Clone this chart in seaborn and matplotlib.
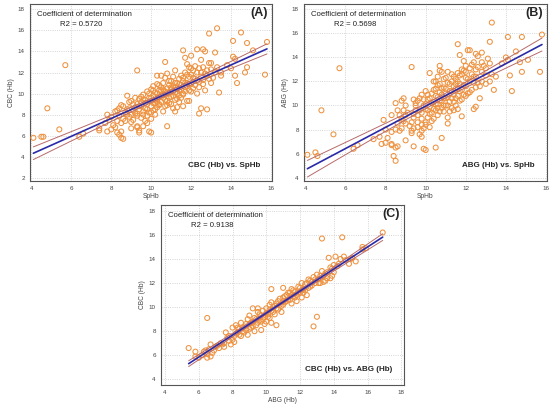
import numpy as np
import matplotlib
matplotlib.use("Agg")
import matplotlib.pyplot as plt
from matplotlib.ticker import MultipleLocator
import seaborn as sns

# panel A: CBC (Hb) vs SpHb
sphb_a = [4.1, 4.5, 4.6, 4.8, 5.4, 5.7, 6.4, 6.6, 7.4, 7.4, 7.7, 7.8, 7.8,
          7.9, 8.0, 8.0, 8.1, 8.2, 8.2, 8.3, 8.3, 8.3, 8.4, 8.4, 8.4, 8.5, 8.5, 8.5, 8.5, 8.6, 8.6, 8.7, 8.8, 8.8, 8.9, 8.9,
          9.0, 9.0, 9.0, 9.1, 9.1, 9.2, 9.2, 9.3, 9.3, 9.3, 9.3, 9.3, 9.4, 9.4, 9.4, 9.4, 9.5, 9.5, 9.5, 9.6, 9.6, 9.6,
          9.7, 9.7, 9.7, 9.8, 9.8, 9.8, 9.9, 9.9, 9.9, 10.0, 10.0, 10.0, 10.0, 10.0, 10.1, 10.1, 10.1, 10.2, 10.2, 10.2,
          10.3, 10.3, 10.3, 10.3, 10.4, 10.4, 10.4, 10.5, 10.5, 10.5,
          10.6, 10.6, 10.6, 10.7, 10.7, 10.7, 10.7, 10.8, 10.8, 10.8, 10.8, 10.9, 10.9, 10.9, 11.0, 11.0, 11.0,
          11.1, 11.1, 11.1, 11.2, 11.2, 11.2, 11.2, 11.3, 11.3, 11.3, 11.4, 11.4, 11.4,
          11.5, 11.5, 11.6, 11.6, 11.6, 11.6, 11.7, 11.7, 11.7, 11.8, 11.8, 11.8, 11.9, 11.9, 11.9, 11.9,
          12.0, 12.0, 12.0, 12.1, 12.1, 12.2, 12.2, 12.3, 12.3, 12.3, 12.4, 12.4, 12.4,
          12.5, 12.5, 12.5, 12.6, 12.6, 12.6, 12.7, 12.7, 12.7, 12.8, 12.8, 12.9, 12.9, 12.9, 13.0, 13.0,
          13.2, 13.2, 13.3, 13.3, 13.4, 13.5, 13.5,
          13.8, 14.0, 14.1, 14.1, 14.2, 14.2, 14.3, 14.5, 14.7, 14.8, 14.8, 15.1, 15.7, 15.8]
cbc_a = [5.8, 5.9, 5.9, 8.6, 6.6, 12.7, 5.9, 6.2, 6.5, 6.7, 7.2, 6.4, 8.0,
         7.5, 6.6, 7.8, 7.0, 6.8, 8.3, 6.3, 7.4, 8.4, 6.1, 7.9, 8.6, 5.8, 6.4, 7.2, 8.9, 5.7, 7.6, 8.2, 9.8, 8.5, 9.2, 7.8,
         6.7, 8.0, 9.3, 8.4, 7.5, 9.6, 8.7, 6.8, 6.9, 12.2, 8.1, 9.0, 6.3, 6.5, 9.5, 8.5, 7.7, 9.2, 8.8, 6.9, 9.9, 8.3,
         7.4, 9.4, 8.6, 7.9, 9.0, 10.2, 6.4, 8.2, 9.6, 6.3, 7.6, 8.8, 9.3, 10.4, 8.4, 9.8, 10.7, 9.1, 8.0, 10.1,
         11.7, 9.5, 10.9, 8.7, 9.7, 10.3, 8.9, 11.7, 9.2, 10.6,
         8.3, 9.9, 11.0, 13.0, 9.4, 10.2, 11.5, 6.9, 8.9, 10.5, 11.9, 9.6, 10.8, 10.0, 9.0, 10.4, 11.2,
         9.8, 10.7, 8.6, 8.3, 10.1, 11.0, 12.2, 8.7, 9.5, 10.5, 11.4, 10.3, 9.2,
         10.8, 11.7, 8.8, 14.1, 10.0, 11.2, 13.4, 10.6, 12.0, 9.3, 12.8, 11.0, 9.3, 10.3, 11.6, 12.5,
         13.6, 10.9, 11.8, 10.5, 12.2, 11.4, 10.8, 14.2, 10.0, 12.0, 8.1, 11.1, 12.4,
         8.6, 13.2, 11.6, 14.2, 12.5, 10.9, 10.3, 14.0, 11.9, 8.5, 12.2, 15.7, 12.9, 11.4, 12.3, 11.0,
         13.9, 12.0, 16.2, 12.5, 10.1, 12.0, 11.7,
         12.7, 12.4, 15.0, 13.5, 13.3, 11.7, 11.0, 15.8, 12.0, 14.8, 12.5, 14.1, 11.8, 14.9]
# more points from the dense middle of panel A
sphb_a_mid = [9.1, 9.2, 9.4, 9.5, 9.6, 9.7, 9.8, 9.9, 10.0, 10.0, 10.1, 10.1, 10.2, 10.2, 10.3, 10.3, 10.4, 10.4,
              10.5, 10.5, 10.6, 10.6, 10.7, 10.7, 10.8, 10.8, 10.9, 10.9, 11.0, 11.0, 11.1, 11.1, 11.2, 11.2,
              11.3, 11.3, 11.4, 11.4, 11.5, 11.5, 11.6, 11.6, 11.7, 11.7, 11.8, 11.8, 11.9, 12.0, 12.0, 12.1,
              12.2, 12.3, 12.4, 12.5, 12.6, 12.8, 13.0, 13.1, 8.7, 8.8, 8.9, 9.0, 8.6, 9.3, 9.6, 9.8]
cbc_a_mid = [9.0, 8.1, 8.8, 9.7, 8.0, 9.1, 8.5, 10.0, 8.2, 9.6, 9.1, 10.3, 9.4, 8.5, 10.0, 9.2, 10.8, 9.0,
             9.8, 10.3, 9.6, 10.4, 8.8, 9.9, 10.1, 9.3, 11.2, 9.1, 9.7, 10.6, 10.2, 11.6, 9.4, 10.6,
             10.0, 11.0, 9.8, 10.9, 9.6, 10.4, 11.5, 9.9, 10.2, 11.0, 10.7, 11.8, 10.9, 10.2, 12.4, 11.5,
             12.6, 11.2, 10.6, 12.0, 11.3, 11.7, 12.9, 11.5, 7.4, 8.0, 8.6, 7.3, 8.8, 7.9, 9.4, 7.2]

# panel B: ABG (Hb) vs SpHb
sphb_b = [4.1, 4.5, 4.6, 4.8, 5.4, 5.7, 6.4, 6.6, 7.4, 7.7, 7.8, 7.9, 8.0,
          8.1, 8.0, 8.3, 8.3, 8.3, 8.3, 8.4, 8.5, 8.5, 8.5, 8.5, 8.6, 8.6, 8.7, 8.8, 8.8, 8.9, 8.9, 9.0, 9.0, 9.0,
          9.3, 9.3, 9.3, 9.4, 9.4, 9.4, 9.4, 9.5, 9.5, 9.6, 9.6, 9.7, 9.7, 9.8, 9.8, 9.8, 9.8, 9.9, 9.9, 9.9,
          10.0, 10.0, 10.0, 10.0, 10.1, 10.1, 10.2, 10.2, 10.2, 10.3, 10.3, 10.4, 10.4, 10.4, 10.5, 10.5, 10.5, 10.5,
          10.6, 10.6, 10.6, 10.6, 10.7, 10.7, 10.7, 10.7, 10.8, 10.8, 10.8, 10.8, 10.9, 10.9, 10.9, 11.0, 11.0, 11.0,
          11.1, 11.1, 11.1, 11.1, 11.2, 11.2, 11.3, 11.3, 11.3, 11.4, 11.4, 11.4,
          11.5, 11.5, 11.5, 11.6, 11.6, 11.6, 11.6, 11.7, 11.7, 11.7, 11.8, 11.8, 11.8, 11.9, 11.9, 11.9,
          12.0, 12.0, 12.0, 12.1, 12.1, 12.2, 12.2, 12.2, 12.3, 12.3, 12.4, 12.4, 12.4,
          12.5, 12.5, 12.5, 12.5, 12.6, 12.6, 12.7, 12.7, 12.8, 12.8, 12.8, 12.9, 13.0, 13.0,
          13.2, 13.2, 13.2, 13.3, 13.3, 13.4, 13.5,
          13.8, 14.0, 14.1, 14.1, 14.2, 14.3, 14.5, 14.7, 14.8, 14.8, 15.1, 15.7, 15.8]
abg_b = [5.9, 6.1, 5.8, 9.6, 7.6, 13.1, 6.4, 6.7, 7.2, 7.4, 6.8, 8.8, 6.9,
         7.3, 8.0, 6.8, 6.7, 7.8, 9.2, 5.8, 5.4, 6.5, 8.0, 10.2, 6.6, 8.5, 9.2, 8.1, 10.4, 10.6, 8.7, 7.1, 9.2, 10.0,
         13.2, 7.7, 7.9, 6.6, 8.1, 9.0, 10.5, 9.6, 10.2, 8.6, 9.2, 10.6, 7.6, 7.9, 8.4, 9.4, 10.9, 6.4, 8.1, 10.0,
         6.3, 8.6, 9.7, 11.2, 9.0, 10.5, 8.2, 12.7, 9.9, 11.0, 9.4, 10.3, 12.0, 8.9, 6.5, 10.8, 9.6, 11.4,
         12.4, 9.2, 10.1, 11.7, 13.3, 12.9, 10.4, 11.1, 7.3, 9.8, 12.8, 10.9, 11.5, 9.5, 10.6, 12.3, 10.0, 11.0,
         8.5, 9.0, 12.8, 10.7, 11.8, 10.3, 9.8, 11.2, 12.6, 9.6, 10.9, 11.6,
         10.0, 11.4, 12.2, 15.1, 9.7, 10.8, 12.0, 14.2, 11.2, 12.5, 9.1, 13.0, 10.5, 13.7, 11.7, 12.9,
         13.3, 10.8, 12.3, 14.6, 11.0, 14.6, 12.0, 13.1, 11.3, 12.6, 9.7, 13.6, 11.9,
         9.9, 14.3, 12.4, 11.5, 13.2, 14.1, 11.6, 10.6, 14.4, 12.8, 12.0, 13.3, 13.1, 11.8,
         15.3, 13.5, 12.0, 16.9, 12.6, 11.3, 12.4,
         13.5, 14.0, 15.7, 13.8, 12.5, 11.2, 14.5, 13.6, 15.7, 12.8, 13.8, 12.8, 15.9]
# more points from the dense middle of panel B
sphb_b_mid = [9.1, 9.2, 9.4, 9.5, 9.6, 9.7, 9.8, 9.9, 10.0, 10.0, 10.1, 10.1, 10.2, 10.2, 10.3, 10.3, 10.4, 10.4,
              10.5, 10.5, 10.6, 10.6, 10.7, 10.7, 10.8, 10.8, 10.9, 10.9, 11.0, 11.0, 11.1, 11.1, 11.2, 11.2,
              11.3, 11.3, 11.4, 11.4, 11.5, 11.5, 11.6, 11.6, 11.7, 11.7, 11.8, 11.8, 11.9, 12.0, 12.0, 12.1,
              12.2, 12.3, 12.4, 12.5, 12.6, 12.8, 13.0, 13.1, 8.7, 8.8, 8.9, 9.0, 8.6, 9.3, 9.6, 9.8]
abg_b_mid = [9.4, 8.3, 9.3, 10.0, 8.2, 9.6, 8.9, 10.5, 8.4, 10.1, 9.6, 10.9, 9.3, 10.6, 10.2, 8.7, 11.3, 9.7,
             10.1, 12.0, 10.7, 9.8, 9.5, 11.8, 10.4, 11.4, 12.2, 10.0, 10.6, 11.4, 10.0, 11.9, 9.5, 11.2,
             10.6, 12.0, 10.3, 12.4, 10.6, 11.8, 11.4, 12.7, 10.4, 11.8, 11.3, 12.6, 10.9, 11.6, 12.8, 12.2,
             11.1, 13.4, 12.4, 13.0, 11.9, 13.6, 12.5, 13.9, 7.9, 8.9, 9.6, 8.5, 9.6, 8.6, 10.4, 7.4]

# panel C: CBC (Hb) vs ABG (Hb)
abg_c = [5.4, 5.8, 5.8, 6.0, 6.2, 6.3, 6.4, 6.5, 6.5, 6.5, 6.6, 6.7, 6.7, 6.8, 6.9, 7.0, 7.2, 7.4, 7.5, 7.5,
         7.6, 7.7, 7.8, 7.9, 8.0, 8.0, 8.1, 8.2, 8.2, 8.3, 8.4, 8.5, 8.5, 8.6, 8.7, 8.8, 8.9, 8.9, 9.0, 9.0,
         9.1, 9.2, 9.2, 9.3, 9.3, 9.4, 9.5, 9.5, 9.6, 9.7, 9.7, 9.8, 9.9, 10.0, 10.0, 10.1, 10.2, 10.3, 10.3, 10.3,
         10.4, 10.5, 10.6, 10.6, 10.7, 10.8, 10.9, 11.0, 11.0, 11.1, 11.2, 11.3, 11.4, 11.5, 11.5, 11.6, 11.7, 11.8,
         11.9, 12.0, 12.1, 12.1, 12.2, 12.3, 12.4, 12.5, 12.5, 12.6, 12.7, 12.8, 12.8, 12.9, 13.0, 13.0, 13.1,
         13.2, 13.3, 13.3, 13.4, 13.5, 13.6, 13.7, 13.8, 13.9, 14.0, 14.1, 14.3, 14.4, 14.5, 14.6, 15.0, 15.3,
         15.7, 15.7, 15.9, 16.9,
         7.1, 7.3, 7.8, 8.1, 8.3, 8.4, 8.6, 8.7, 8.8, 9.0, 9.1, 9.2, 9.4, 9.5, 9.6, 9.7, 9.8, 9.9, 10.0, 10.1,
         10.2, 10.3, 10.4, 10.5, 10.6, 10.7, 10.8, 10.9, 11.0, 11.1, 11.2, 11.3, 11.4, 11.5, 11.6, 11.7, 11.8,
         11.9, 12.0, 12.2, 12.3, 12.4, 12.6, 12.7, 12.9, 13.1, 13.2, 13.4, 13.5, 13.6, 13.8, 14.0, 14.2, 14.7,
         15.1, 14.9, 13.9, 12.1, 11.0, 10.2]
cbc_c = [6.6, 6.3, 5.9, 5.8, 6.0, 6.3, 6.4, 9.1, 5.8, 6.1, 6.5, 6.9, 5.9, 6.2, 6.4, 6.7, 6.6, 6.9, 7.0, 6.7,
         7.9, 7.5, 7.6, 6.9, 7.3, 8.3, 7.1, 7.8, 8.5, 7.9, 8.2, 8.7, 7.6, 8.0, 8.4, 8.1, 9.0, 7.7, 8.6, 9.3,
         8.3, 9.9, 8.8, 9.1, 8.0, 8.5, 9.6, 9.9, 8.9, 8.1, 9.3, 9.0, 8.6, 9.5, 8.8, 9.2, 9.8, 11.5, 10.4, 8.7,
         9.6, 10.1, 9.9, 8.5, 10.5, 10.2, 9.6, 11.6, 10.8, 10.4, 11.0, 10.6, 11.2, 10.3, 11.0, 11.4, 10.8, 10.5,
         11.7, 11.2, 10.8, 12.0, 11.5, 11.9, 11.0, 12.3, 11.6, 12.2, 11.8, 12.5, 8.4, 12.0, 9.2, 12.7, 12.3,
         12.0, 15.7, 13.0, 12.6, 12.2, 12.9, 14.1, 12.4, 13.2, 13.5, 14.2, 13.6, 14.0, 15.8, 14.2, 14.0, 13.8,
         15.0, 14.8, 14.9, 16.2,
         6.8, 7.0, 7.2, 7.6, 8.3, 7.7, 8.3, 7.9, 8.6, 8.2, 8.7, 8.4, 9.0, 8.7, 9.4, 8.8, 9.7, 9.2, 9.9, 9.4,
         9.1, 9.7, 10.0, 9.4, 10.3, 9.8, 10.7, 10.1, 10.2, 10.9, 10.5, 11.2, 10.6, 11.5, 10.9, 11.3, 11.0,
         11.2, 11.6, 11.2, 11.4, 12.0, 11.7, 12.1, 12.3, 12.0, 12.6, 12.1, 12.8, 12.4, 13.3, 12.9, 13.4, 13.9,
         14.1, 13.6, 12.6, 11.4, 10.5, 10.2]

r2_a, r2_b, r2_c = "0.5720", "0.5698", "0.9138"

sns.set_style("white")
plt.rcParams['font.family'] = ['Liberation Sans', 'DejaVu Sans']

fig = plt.figure(figsize=(5.5, 4.04), dpi=100)
axA = fig.add_axes([0.0545, 0.552, 0.44, 0.438])
axB = fig.add_axes([0.5527, 0.552, 0.4418, 0.438])
axC = fig.add_axes([0.2927, 0.047, 0.4418, 0.446])


def draw_panel(ax, x, y, r2, tag, caption, xlabel, ylabel, xlim, ylim, xticks, yticks):
    x = np.asarray(x)
    y = np.asarray(y)
    sns.scatterplot(x=x, y=y, ax=ax, s=13, marker='o', facecolor='none',
                    edgecolor='#EE9240', linewidth=0.75, zorder=3)
    # least squares fit and 95% confidence band of the line
    slope, icpt = np.polyfit(x, y, 1)
    xs = np.linspace(x.min(), x.max(), 100)
    fit = slope * xs + icpt
    n = len(x)
    resid = y - (slope * x + icpt)
    s = np.sqrt(np.sum(resid ** 2) / (n - 2))
    sxx = np.sum((x - x.mean()) ** 2)
    half = 1.97 * s * np.sqrt(1.0 / n + (xs - x.mean()) ** 2 / sxx)
    ax.plot(xs, fit + half, color='#B86A6A', lw=0.7, zorder=4)
    ax.plot(xs, fit - half, color='#B86A6A', lw=0.7, zorder=4)
    ax.plot(xs, fit, color='#2A2AA8', lw=1.2, zorder=5)

    ax.set_xlim(*xlim)
    ax.set_ylim(*ylim)
    ax.set_xticks(xticks)
    ax.set_yticks(yticks)
    ax.xaxis.set_minor_locator(MultipleLocator(1))
    ax.yaxis.set_minor_locator(MultipleLocator(1))
    ax.grid(True, which='major', linestyle=':', color='#c8c8c8', linewidth=0.6)
    ax.set_axisbelow(True)
    for sp in ax.spines.values():
        sp.set_color('#555555')
        sp.set_linewidth(0.8)
    ax.tick_params(which='major', labelsize=4.5, length=2.5, width=0.5, colors='#444444', pad=1.2)
    ax.tick_params(which='minor', length=1.5, width=0.5, colors='#444444')
    ax.set_xlabel(xlabel, fontsize=4.8, color='#444444', labelpad=1.5)
    ax.set_ylabel(ylabel, fontsize=4.8, color='#444444', labelpad=2)

    ax.text(0.03, 0.94, "Coefficient of determination", transform=ax.transAxes,
            fontsize=5.6, va='center', ha='left', color='#222222')
    ax.text(0.125, 0.887, "R2 = " + r2, transform=ax.transAxes,
            fontsize=5.6, va='center', ha='left', color='#222222')
    ax.text(0.985, 0.95, tag, transform=ax.transAxes, fontsize=9,
            fontweight='bold', va='center', ha='right')
    ax.text(0.95, 0.085, caption, transform=ax.transAxes, fontsize=5.8,
            fontweight='bold', va='center', ha='right')


draw_panel(axA, sphb_a + sphb_a_mid, cbc_a + cbc_a_mid, r2_a, "(A)", "CBC (Hb) vs. SpHb", "SpHb", "CBC (Hb)",
           (3.93, 16.05), (1.7, 18.5), range(4, 17, 2), range(2, 19, 2))
draw_panel(axB, sphb_b + sphb_b_mid, abg_b + abg_b_mid, r2_b, "(B)", "ABG (Hb) vs. SpHb", "SpHb", "ABG (Hb)",
           (3.93, 16.05), (3.72, 18.44), range(4, 17, 2), range(4, 19, 2))
draw_panel(axC, abg_c, cbc_c, r2_c, "(C)", "CBC (Hb) vs. ABG (Hb)", "ABG (Hb)", "CBC (Hb)",
           (3.76, 18.16), (3.53, 18.5), range(4, 19, 2), range(4, 19, 2))

fig.savefig("out.png", dpi=100)
